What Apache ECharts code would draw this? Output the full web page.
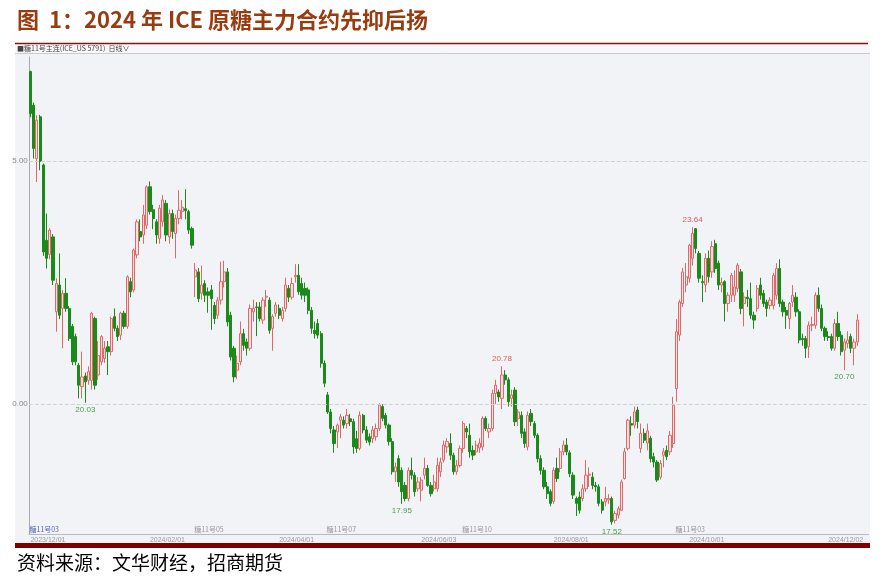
<!DOCTYPE html>
<html><head><meta charset="utf-8">
<script src="https://cdn.jsdelivr.net/npm/echarts@6/dist/echarts.min.js"></script>
<style>html,body{margin:0;padding:0;background:#fff}#c{width:889px;height:584px}</style>
</head><body><div id="c"></div>
<script>
// ---- data ----
const firstDay = '2023-12-07', lastDay = '2024-12-13';
const holidays = ['2023-12-25','2024-01-01','2024-01-15','2024-02-19','2024-03-29','2024-05-27','2024-06-19','2024-07-04','2024-09-02','2024-11-28'];
// trading-day categories (weekdays minus exchange holidays)
const dates = (function(){const out=[];let d=new Date(firstDay+'T00:00:00Z');const end=new Date(lastDay+'T00:00:00Z');
  while(d<=end){const iso=d.toISOString().slice(0,10);const wd=d.getUTCDay();
    if(wd!==0&&wd!==6&&holidays.indexOf(iso)<0)out.push(iso.replace(/-/g,'/'));d=new Date(d.getTime()+86400000);}return out;})();
const xTickLabels = ['2023/12/01','2024/02/01','2024/04/01','2024/06/03','2024/08/01','2024/10/01','2024/12/02'];
const yTickValues = [20,25];
// [open, close, low, high]
const candles = [
[26.84,25.98,25.90,26.86],[26.15,25.26,25.05,26.20],[25.05,25.84,24.57,25.94],[25.91,24.99,24.81,25.95],[24.92,23.13,23.05,24.95],
[23.37,23.00,22.79,23.92],[23.08,23.58,22.98,23.62],[23.44,22.55,22.45,23.50],[21.90,22.48,21.49,22.59],[22.45,21.83,21.75,23.10],
[21.97,22.28,21.15,22.35],[22.28,21.97,21.90,22.59],[21.97,21.35,21.30,22.02],[21.60,20.87,20.80,21.65],[21.39,20.87,20.80,21.45],
[20.80,20.39,20.12,20.85],[20.36,20.56,20.12,21.08],[20.58,20.46,20.03,20.65],[20.49,20.67,20.40,20.78],[20.49,21.87,20.30,21.90],
[21.76,20.39,20.30,21.80],[20.60,21.00,20.50,21.30],[20.87,21.39,20.80,21.42],[20.94,21.15,20.85,21.30],[21.18,21.08,20.60,21.30],
[21.08,21.76,21.00,21.80],[21.80,21.56,21.50,21.97],[21.56,21.39,21.30,21.62],[21.42,21.87,21.32,21.90],[21.87,21.60,21.55,21.92],
[21.60,22.62,21.55,22.65],[22.52,22.31,22.20,22.60],[22.35,23.17,22.30,23.20],[23.07,23.75,23.00,23.80],[23.55,23.44,23.35,23.80],
[23.48,23.89,23.30,24.10],[23.68,24.47,23.60,24.50],[24.47,23.96,23.90,24.58],[24.00,23.82,23.60,24.10],[23.75,23.48,23.30,23.80],
[23.41,24.03,23.30,24.10],[23.75,24.20,23.65,24.30],[24.13,23.48,23.35,24.20],[23.44,23.92,23.30,24.00],[23.92,23.55,23.40,24.00],
[23.51,23.82,23.00,23.90],[23.82,23.99,23.70,24.40],[23.96,24.05,23.80,24.20],[24.02,23.98,23.80,24.42],[23.96,23.58,23.50,24.00],
[23.61,23.27,23.20,23.65],[22.62,22.76,22.20,22.90],[22.72,22.17,22.10,22.80],[22.28,22.45,22.15,22.85],[22.48,22.24,22.10,22.55],
[22.31,22.24,21.88,22.40],[22.35,22.17,21.53,22.45],[22.03,21.76,21.65,22.10],[21.83,22.14,21.75,22.20],[22.14,22.52,22.05,22.93],
[22.52,22.72,22.40,22.95],[22.72,21.69,21.60,22.80],[21.83,20.97,20.90,21.90],[21.15,20.56,20.45,21.20],[20.70,20.84,20.52,21.00],
[20.87,21.45,20.80,21.70],[21.45,21.21,21.10,21.55],[21.28,21.15,21.00,21.35],[21.15,21.97,21.10,22.05],[21.90,21.97,21.70,22.15],
[22.00,21.99,21.40,22.10],[22.00,21.76,21.70,22.10],[21.73,22.14,21.65,22.20],[22.20,22.22,22.00,22.35],[22.14,21.52,21.45,22.20],
[21.56,21.80,21.10,21.85],[21.87,22.04,21.80,22.10],[21.97,21.83,21.75,22.05],[21.76,21.93,21.70,22.00],[21.97,22.45,21.90,22.60],
[22.38,22.20,22.10,22.45],[22.20,22.48,22.15,22.60],[22.62,22.65,22.50,22.88],[22.65,22.31,22.25,22.88],[22.48,22.24,22.15,22.60],
[22.38,22.24,22.10,22.50],[22.35,21.93,21.85,22.40],[21.93,21.56,21.45,22.00],[21.52,21.45,21.35,21.70],[21.66,21.42,21.35,21.75],
[21.45,20.84,20.75,21.50],[20.84,20.43,20.35,20.90],[20.19,19.84,19.80,20.25],[19.84,19.50,19.40,19.90],[19.47,19.19,19.00,19.55],
[19.43,19.57,19.10,19.60],[19.67,19.74,19.30,19.80],[19.67,19.57,19.50,19.75],[19.60,19.77,19.50,19.90],[19.70,19.64,19.55,19.80],
[19.64,19.12,18.98,19.70],[19.29,19.09,19.00,19.45],[19.09,19.77,19.05,19.85],[19.77,19.47,19.40,19.80],[19.47,19.26,19.20,19.55],
[19.33,19.22,19.15,19.40],[19.29,19.47,19.20,19.55],[19.33,19.50,19.25,19.60],[19.50,19.98,19.45,20.02],[19.95,19.71,19.65,20.00],
[19.77,19.57,19.50,19.82],[19.57,19.23,19.15,19.60],[19.23,18.61,18.55,19.30],[18.61,18.71,18.40,18.80],[18.88,18.40,18.30,18.95],
[18.64,18.20,17.95,18.70],[18.33,18.06,18.00,18.40],[18.06,18.64,18.00,18.70],[18.64,18.54,18.45,18.90],[18.54,18.20,18.10,18.60],
[18.26,18.40,18.20,18.50],[18.23,18.44,18.00,18.50],[18.54,18.68,18.45,18.90],[18.68,18.33,18.30,18.75],[18.33,18.16,18.10,18.40],
[18.26,18.40,18.20,18.55],[18.26,18.74,18.20,18.90],[18.61,18.81,18.50,18.90],[18.85,19.16,18.80,19.25],[19.12,19.23,19.00,19.30],
[19.19,18.95,18.85,19.40],[18.95,18.61,18.55,19.00],[18.61,18.74,18.55,18.85],[18.74,19.09,18.70,19.15],[19.09,19.60,19.00,19.65],
[19.50,19.43,19.30,19.55],[19.36,19.02,18.90,19.60],[19.05,18.95,18.85,19.15],[19.02,19.16,18.95,19.25],[19.10,19.20,19.00,19.30],
[19.12,19.71,19.05,19.75],[19.71,19.50,19.45,19.75],[19.43,19.50,19.30,19.60],[19.50,20.22,19.45,20.30],[20.22,20.39,20.00,20.50],
[20.25,20.15,20.05,20.30],[20.12,20.60,19.90,20.78],[20.60,20.50,20.40,20.70],[20.50,20.05,19.95,20.55],[20.12,20.19,19.95,20.30],
[20.29,19.64,19.55,20.35],[19.70,19.84,19.55,19.90],[19.77,19.40,19.30,19.85],[19.43,19.19,19.10,19.50],[19.12,19.77,19.05,19.85],
[19.81,19.64,19.55,19.90],[19.60,19.36,19.30,19.65],[19.36,18.88,18.80,19.40],[18.88,18.64,18.55,18.95],[18.64,18.30,18.25,18.70],
[18.30,18.16,18.05,18.40],[18.20,17.96,17.90,18.25],[18.00,18.64,17.95,18.70],[18.68,18.47,18.40,18.90],[18.68,19.02,18.60,19.10],
[19.02,19.16,18.95,19.25],[19.16,19.02,18.95,19.30],[19.00,18.57,18.50,19.05],[18.54,18.13,18.05,18.60],[18.06,17.96,17.70,18.10],
[18.09,17.82,17.75,18.20],[18.06,18.26,18.00,18.35],[18.26,18.54,18.20,18.85],[18.54,18.56,18.30,18.70],[18.50,18.33,18.25,18.60],
[18.33,18.30,18.20,18.40],[18.30,17.96,17.90,18.35],[17.99,17.82,17.75,18.05],[17.99,18.06,17.90,18.30],[18.03,18.06,17.95,18.15],
[18.06,17.58,17.52,18.10],[17.61,17.75,17.55,17.80],[17.72,17.85,17.65,17.90],[17.82,18.40,17.80,18.45],[18.47,19.02,18.45,19.10],
[19.09,19.67,19.05,19.70],[19.60,19.57,19.35,19.75],[19.57,19.84,19.50,19.95],[19.88,19.64,19.50,19.95],[19.09,19.40,19.00,19.60],
[19.40,19.26,19.20,19.50],[19.20,19.45,19.05,19.60],[19.30,18.88,18.80,19.35],[18.92,18.81,18.70,19.00],[18.81,18.44,18.40,18.85],
[18.50,18.78,18.45,18.85],[18.95,19.02,18.70,19.10],[19.05,18.92,18.85,19.15],[19.02,19.36,18.95,19.45],[19.19,19.98,19.10,20.15],
[20.32,21.49,20.05,21.75],[21.42,22.10,21.30,22.15],[22.07,22.72,22.00,22.80],[22.45,22.62,22.30,22.90],[22.59,23.27,22.50,23.30],
[23.00,23.51,22.85,23.64],[23.61,23.20,23.10,23.62],[23.10,22.59,22.50,23.15],[22.52,22.50,22.10,22.65],[22.45,23.00,22.30,23.10],
[23.00,22.62,22.50,23.16],[22.72,23.24,22.60,23.35],[23.30,22.79,22.70,23.38],[22.90,22.45,22.35,22.95],[22.45,22.50,22.30,22.60],
[22.52,22.07,21.70,22.55],[22.07,22.24,21.90,22.30],[22.24,22.65,22.10,22.70],[22.24,22.41,22.10,22.75],[22.38,22.86,22.30,22.90],
[22.72,21.97,21.85,22.78],[22.07,22.20,21.60,22.30],[22.20,22.17,22.00,22.35],[22.17,21.83,21.75,22.50],[21.83,21.73,21.55,21.90],
[21.97,22.38,21.90,22.45],[22.45,22.24,22.15,22.60],[22.28,22.07,22.00,22.35],[22.10,21.97,21.80,22.15],[22.03,22.14,21.95,22.20],
[22.03,22.65,21.95,22.70],[22.24,22.79,22.15,22.90],[22.79,22.07,22.00,22.98],[22.10,21.90,21.80,22.15],[21.93,21.83,21.55,22.00],
[21.76,22.07,21.55,22.10],[22.10,22.24,22.00,22.45],[22.20,21.90,21.80,22.30],[21.90,21.32,21.25,21.95],[21.35,21.33,21.20,21.45],
[21.35,21.15,20.95,21.40],[21.18,21.62,20.95,21.70],[21.62,21.64,21.50,21.80],[21.62,22.24,21.55,22.30],[22.24,21.97,21.90,22.40],
[21.97,21.56,21.50,22.05],[21.56,21.39,21.30,21.60],[21.39,21.37,21.30,21.50],[21.39,21.15,21.10,21.45],[21.15,21.66,21.10,21.75],
[21.66,21.39,21.30,21.90],[21.42,21.08,21.00,21.50],[21.11,21.28,20.70,21.35],[21.25,21.32,21.15,21.50],[21.39,21.15,21.05,21.45],
[21.15,21.28,20.80,21.35],[21.28,21.73,21.20,21.85]
];
// labelled local extremes: candle index and which end
const extremeIdx = [17,146,115,180,205,252];
const extremeKind = ['low','high','low','low','high','low'];
// contract roll markers
const rollIdx = [0,51,92,134,200];
const rollText = ['糖11号03','糖11号05','糖11号07','糖11号10','糖11号03'];

// ---- chart ----
const chart = echarts.init(document.getElementById('c'), null, {renderer:'canvas'});
const labelAt = {};
xTickLabels.forEach(t => { const i = dates.findIndex(d => d >= t); if (i >= 0) labelAt[i] = t; });
const yMin = 17.33, yMax = 27.14;
const green = '#1a8a1a', red = '#e26868';

const extremePts = extremeIdx.map((i,k) => {
  const v = extremeKind[k]==='low' ? candles[i][2] : candles[i][3];
  const low = extremeKind[k]==='low';
  return {coord:[dates[i], v], value:v, symbol:'circle', symbolSize:0,
    label:{show:true, formatter:v.toFixed(2), position: low?'bottom':'top', distance:3,
      color: low ? '#4a9e4a' : '#e05a5a', fontSize:8, fontFamily:'Arial'}};
});
const rollPts = rollIdx.map((i,k) => ({coord:[dates[i], yMin], value:0, symbol:'circle', symbolSize:0,
  label:{show:true, formatter:rollText[k], position:'right', distance:0, offset:[-1,-5],
    color: k===0 ? '#5566bb' : '#999', fontSize:7, fontFamily:'"Noto Sans CJK SC"'}}));

chart.setOption({
  animation:false,
  backgroundColor:'#ffffff',
  graphic:[
    {type:'rect', z:-10, shape:{x:15,y:44,width:855,height:499}, style:{fill:'#f2f3f7'}},
    {type:'rect', z:-9, shape:{x:15,y:44,width:855,height:9}, style:{fill:'#f8f8fa'}},
    {type:'line', z:-8, shape:{x1:15,y1:53.5,x2:870,y2:53.5}, style:{stroke:'#c9cad2', lineWidth:1}},
    {type:'line', shape:{x1:15,y1:43.5,x2:868,y2:43.5}, style:{stroke:'#8b1010', lineWidth:1.5}},
    {type:'rect', shape:{x:15,y:543,width:855,height:5}, style:{fill:'#800000'}},
    {type:'text', x:17, y:20, style:{text:'图  1：2024 年 ICE 原糖主力合约先抑后扬', font:'bold 22px "Noto Sans CJK SC"', fill:'#9a3b0f', verticalAlign:'middle'}},
    {type:'text', x:17, y:48.5, style:{text:'■糖11号主连(ICE_US 5791)  日线∨', font:'7px "Noto Sans CJK SC"', fill:'#444', verticalAlign:'middle'}},
    {type:'text', x:17, y:563, style:{text:'资料来源：文华财经，招商期货', font:'19px "Noto Sans CJK SC"', fill:'#000', verticalAlign:'middle'}}
  ],
  grid:{left:28.8, right:20.4, top:57, bottom:50},
  xAxis:{type:'category', data:dates, max:dates.length+2, boundaryGap:true,
    axisLine:{show:true, lineStyle:{color:'#b8b9c2'}}, axisTick:{show:false}, splitLine:{show:false},
    axisLabel:{interval:(i)=>labelAt[i]!==undefined, formatter:(v,i)=>labelAt[i]||'', align:'left',
      fontSize:7, color:'#9a9a9a', margin:3, fontFamily:'Arial'}},
  yAxis:{type:'value', min:yMin, max:yMax, scale:true,
    axisLine:{show:true, lineStyle:{color:'#a8a9b2'}}, axisTick:{show:false}, splitLine:{show:false},
    axisLabel:{customValues:yTickValues, formatter:(v)=>v.toFixed(2).slice(1), fontSize:8, color:'#8a8a8a', margin:1, fontFamily:'Arial'}},
  series:[{
    type:'candlestick', data:candles, barWidth:2.7,
    itemStyle:{color:'#fbe2e2', color0:green, borderColor:red, borderColor0:green, borderWidth:1},
    markLine:{silent:true, symbol:'none', label:{show:false}, lineStyle:{type:'dashed', color:'#cfd0d8', width:1},
      data:yTickValues.map(v=>({yAxis:v}))},
    markPoint:{silent:true, data: extremePts.concat(rollPts)}
  }]
});
</script></body></html>
